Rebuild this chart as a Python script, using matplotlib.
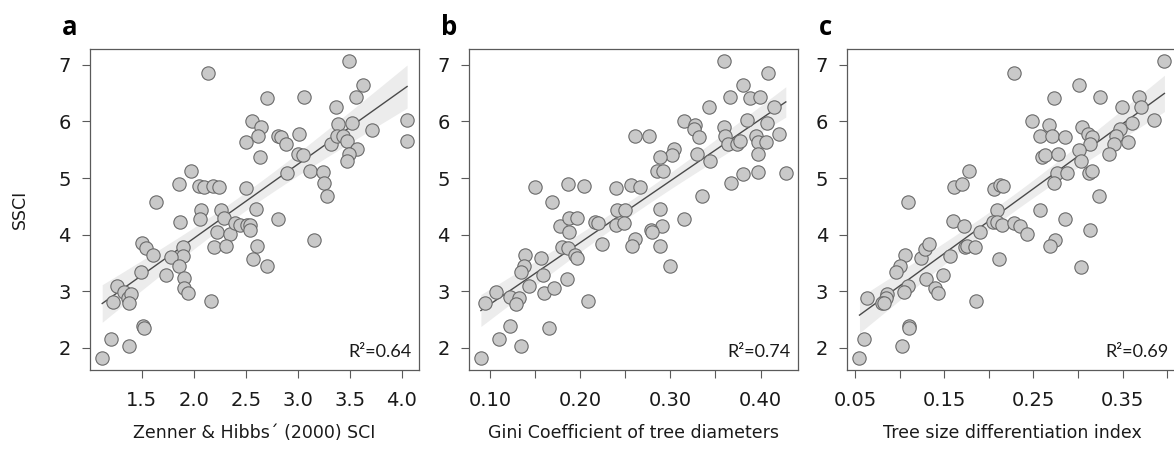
import numpy as np
import matplotlib
matplotlib.use("Agg")
import matplotlib.pyplot as plt

# ---------------- data ----------------
a_x = [3.49, 2.14, 3.63, 2.70, 3.06, 3.56, 3.37, 3.71, 2.56, 2.65, 3.39, 3.52, 2.50, 2.62, 2.64,
       2.81, 2.84, 2.89, 3.01, 3.00, 3.05, 3.32, 3.38, 3.43, 3.47, 3.57, 3.49, 3.47, 2.90, 3.12,
       3.24, 3.25, 3.28, 3.16, 2.81, 1.97, 1.86, 2.05, 2.10, 2.18, 2.24, 2.50, 1.64, 2.07, 2.06,
       1.87, 2.26, 2.29, 2.22, 2.35, 2.40, 2.44, 2.51, 2.54, 2.54, 2.60, 2.61, 2.57, 2.70, 2.19,
       2.31, 1.50, 1.54, 1.61, 1.90, 1.90, 1.78, 1.86, 1.73, 1.91, 1.91, 1.94, 1.49, 1.26, 1.33,
       1.37, 1.40, 1.38, 1.22, 2.17, 1.51, 1.52, 1.20, 1.38, 1.12, 4.05, 4.05]
a_y = [7.07, 6.85, 6.64, 6.42, 6.44, 6.44, 6.25, 5.85, 6.00, 5.90, 5.95, 5.98, 5.63, 5.74, 5.38,
       5.75, 5.72, 5.60, 5.77, 5.43, 5.40, 5.61, 5.75, 5.74, 5.66, 5.51, 5.43, 5.30, 5.09, 5.13,
       5.10, 4.91, 4.68, 3.90, 4.28, 5.13, 4.90, 4.86, 4.85, 4.86, 4.84, 4.82, 4.58, 4.44, 4.27,
       4.22, 4.43, 4.30, 4.04, 4.02, 4.21, 4.18, 4.17, 4.17, 4.09, 4.45, 3.80, 3.57, 3.44, 3.78,
       3.80, 3.85, 3.77, 3.64, 3.78, 3.62, 3.60, 3.45, 3.29, 3.23, 3.05, 2.97, 3.34, 3.10, 2.99,
       2.89, 2.96, 2.79, 2.81, 2.83, 2.39, 2.36, 2.15, 2.03, 1.82, 6.03, 5.65]

b_x = [0.360, 0.408, 0.380, 0.366, 0.388, 0.399, 0.343, 0.415, 0.315, 0.327, 0.326, 0.332, 0.385,
       0.407, 0.360, 0.361, 0.364, 0.374, 0.377, 0.395, 0.397, 0.406, 0.421, 0.261, 0.276, 0.304,
       0.302, 0.288, 0.330, 0.344, 0.397, 0.397, 0.380, 0.367, 0.428, 0.285, 0.292, 0.335, 0.315,
       0.150, 0.187, 0.204, 0.240, 0.256, 0.266, 0.169, 0.241, 0.250, 0.240, 0.249, 0.217, 0.220,
       0.224, 0.288, 0.291, 0.279, 0.280, 0.289, 0.261, 0.258, 0.300, 0.178, 0.188, 0.196, 0.188,
       0.180, 0.187, 0.194, 0.197, 0.139, 0.138, 0.134, 0.157, 0.159, 0.186, 0.143, 0.160, 0.171,
       0.107, 0.122, 0.132, 0.129, 0.094, 0.209, 0.122, 0.166, 0.110, 0.135, 0.090]
b_y = [7.07, 6.85, 6.64, 6.44, 6.41, 6.43, 6.25, 6.25, 6.00, 5.94, 5.86, 5.73, 6.03, 5.98, 5.90,
       5.75, 5.60, 5.61, 5.65, 5.74, 5.63, 5.63, 5.77, 5.74, 5.74, 5.51, 5.41, 5.38, 5.43, 5.30,
       5.42, 5.10, 5.08, 4.91, 5.09, 5.12, 5.13, 4.68, 4.28, 4.84, 4.90, 4.86, 4.82, 4.88, 4.85,
       4.58, 4.44, 4.44, 4.17, 4.20, 4.22, 4.20, 3.84, 4.45, 4.15, 4.08, 4.04, 3.80, 3.92, 3.80,
       3.44, 4.16, 4.30, 4.29, 4.04, 3.78, 3.77, 3.64, 3.58, 3.64, 3.45, 3.34, 3.59, 3.28, 3.21,
       3.10, 2.97, 3.05, 2.99, 2.90, 2.88, 2.78, 2.80, 2.83, 2.39, 2.36, 2.15, 2.03, 1.82]

c_x = [0.397, 0.228, 0.301, 0.273, 0.325, 0.369, 0.349, 0.371, 0.249, 0.268, 0.385, 0.361, 0.257,
       0.271, 0.285, 0.305, 0.311, 0.316, 0.314, 0.301, 0.347, 0.343, 0.340, 0.356, 0.260, 0.263,
       0.278, 0.335, 0.303, 0.276, 0.288, 0.312, 0.316, 0.273, 0.324, 0.286, 0.314, 0.258, 0.274,
       0.269, 0.303, 0.178, 0.161, 0.170, 0.206, 0.213, 0.216, 0.109, 0.209, 0.160, 0.172, 0.205,
       0.209, 0.215, 0.228, 0.235, 0.243, 0.190, 0.212, 0.173, 0.176, 0.185, 0.124, 0.129, 0.133,
       0.106, 0.100, 0.096, 0.157, 0.149, 0.130, 0.109, 0.105, 0.140, 0.143, 0.086, 0.085, 0.080,
       0.083, 0.063, 0.186, 0.110, 0.111, 0.060, 0.103, 0.055]
c_y = [7.07, 6.85, 6.64, 6.42, 6.44, 6.43, 6.25, 6.25, 6.00, 5.94, 6.03, 5.98, 5.74, 5.74, 5.72,
       5.90, 5.77, 5.73, 5.61, 5.50, 5.86, 5.74, 5.61, 5.64, 5.38, 5.40, 5.43, 5.42, 5.30, 5.09,
       5.09, 5.09, 5.13, 4.91, 4.68, 4.28, 4.08, 4.44, 3.90, 3.80, 3.43, 5.13, 4.84, 4.89, 4.81,
       4.88, 4.86, 4.58, 4.44, 4.25, 4.15, 4.22, 4.22, 4.17, 4.20, 4.15, 4.02, 4.04, 3.57, 3.79,
       3.80, 3.78, 3.59, 3.75, 3.84, 3.64, 3.45, 3.34, 3.62, 3.28, 3.21, 3.10, 2.99, 3.05, 2.97,
       2.96, 2.88, 2.79, 2.80, 2.88, 2.83, 2.39, 2.36, 2.15, 2.03, 1.82]

a_xticks = [1.5, 2.0, 2.5, 3.0, 3.5, 4.0]
a_xticklabels = ["1.5", "2.0", "2.5", "3.0", "3.5", "4.0"]
b_xticks = [0.10, 0.15, 0.20, 0.25, 0.30, 0.35, 0.40]
b_xticklabels = ["0.10", "", "0.20", "", "0.30", "", "0.40"]
c_xticks = [0.05, 0.10, 0.15, 0.20, 0.25, 0.30, 0.35, 0.40]
c_xticklabels = ["0.05", "", "0.15", "", "0.25", "", "0.35", ""]
yticks = [2, 3, 4, 5, 6, 7]

panel_letters = ["a", "b", "c"]
xlabels = ["Zenner & Hibbs\u00b4 (2000) SCI", "Gini Coefficient of tree diameters",
           "Tree size differentiation index"]
r2_labels = ["R\u00b2=0.64", "R\u00b2=0.74", "R\u00b2=0.69"]
ylabel = "SSCI"

# ---------------- styling ----------------
plt.rcParams['font.family'] = ['DejaVu Sans']
W, H = 1174, 450
fig = plt.figure(figsize=(W / 100, H / 100), dpi=100)

ax_w_px, ax_h_px = 329.3, 321
lefts_px = [90, 468.7, 847.3]
bottom_px = 80

spine_col = '#5a5a5a'
pt_face = '#c9c9c9'
pt_edge = '#6a6a6a'
line_col = '#4a4a4a'
band_col = '#ececec'
text_col = '#1a1a1a'

panels = [(a_x, a_y, a_xticks, a_xticklabels),
          (b_x, b_y, b_xticks, b_xticklabels),
          (c_x, c_y, c_xticks, c_xticklabels)]

for i, (xs, ys, xt, xtl) in enumerate(panels):
    x = np.asarray(xs, float)
    y = np.asarray(ys, float)
    ax = fig.add_axes([lefts_px[i] / W, bottom_px / H, ax_w_px / W, ax_h_px / H])

    # regression with 95% confidence band
    n = len(x)
    b1, b0 = np.polyfit(x, y, 1)
    resid = y - (b0 + b1 * x)
    s = np.sqrt(np.sum(resid ** 2) / (n - 2))
    xm = x.mean()
    sxx = np.sum((x - xm) ** 2)
    xg = np.linspace(x.min(), x.max(), 200)
    yg = b0 + b1 * xg
    se = s * np.sqrt(1.0 / n + (xg - xm) ** 2 / sxx)
    tval = 1.99
    ax.fill_between(xg, yg - tval * se, yg + tval * se, color=band_col, lw=0, zorder=1)
    ax.plot(xg, yg, color=line_col, lw=1.0, zorder=2)

    ax.scatter(x, y, s=92, facecolor=pt_face, edgecolor=pt_edge, linewidths=0.8, zorder=3)

    # limits: data range + 4%
    xr = x.max() - x.min()
    yr = y.max() - y.min()
    ax.set_xlim(x.min() - 0.04 * xr, x.max() + 0.04 * xr)
    ax.set_ylim(y.min() - 0.04 * yr, y.max() + 0.04 * yr)

    ax.set_xticks(xt)
    ax.set_xticklabels(xtl)
    ax.set_yticks(yticks)
    ax.set_yticklabels([str(v) for v in yticks])
    ax.tick_params(axis='both', direction='out', length=5.8, width=0.8, color=spine_col,
                   labelsize=14, labelcolor=text_col)
    ax.tick_params(axis='x', pad=9.5)
    ax.tick_params(axis='y', pad=8.0)
    for sp in ax.spines.values():
        sp.set_color(spine_col)
        sp.set_linewidth(0.9)

    ax.set_xlabel(xlabels[i], fontsize=12.5, color=text_col)
    ax.xaxis.set_label_coords(0.5, -68.3 / ax_h_px)
    ax.xaxis.label.set_va('baseline')

    if i == 0:
        ax.set_ylabel(ylabel, fontsize=12.5, color=text_col)
        ax.yaxis.set_label_coords(-70.3 / ax_w_px, 0.5)
        ax.yaxis.label.set_va('center')

    ax.annotate(r2_labels[i], xy=(1, 0), xycoords='axes fraction',
                xytext=(-7.5 * 0.72, 13.3 * 0.72), textcoords='offset points',
                ha='right', va='baseline', fontsize=13, family=['Lato', 'DejaVu Sans'],
                color=text_col)

    fig.text((lefts_px[i] - 28) / W, 1 - 35 / H, panel_letters[i], ha='left', va='baseline',
             fontsize=18.5, fontweight='bold', family=['Open Sans', 'DejaVu Sans'],
             color='black')

fig.savefig('out.png', dpi=100)
